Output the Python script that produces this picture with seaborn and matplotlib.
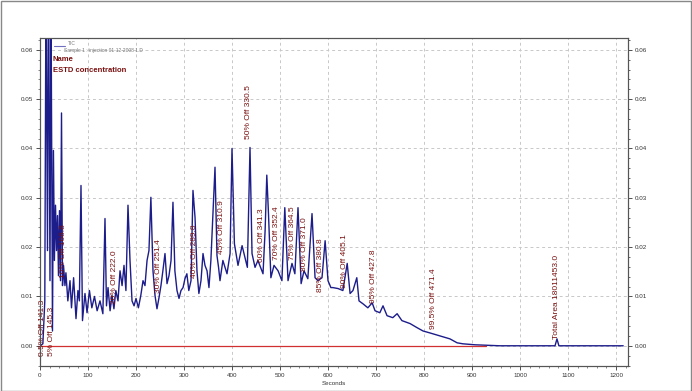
import matplotlib
matplotlib.use("Agg")
import matplotlib.pyplot as plt
import seaborn as sns
import pandas as pd
from matplotlib.ticker import MultipleLocator
from matplotlib.patches import Rectangle

# ---------------- data ----------------
time_s = [0, 6, 10, 12.5, 15.6, 17.7, 20.8, 22.9, 26, 28, 30, 32.3, 34.4, 36.5, 38.5, 40.6,
          42.7, 44.8, 46.9, 49, 52, 54, 58, 62.5, 65.6, 70, 75, 79, 82, 85.4, 88.5, 93.7,
          98, 103, 108, 113.5, 119, 125, 131, 135.4, 138.5, 141.7, 146, 150, 154, 158,
          162.5, 166.7, 171, 175, 179, 183.3, 187.5, 191.7, 196, 200, 205, 210, 214.6,
          218.7, 223, 227, 231, 235.4, 239.6, 243.7, 248, 252, 256, 260.4, 264.6, 268.7,
          273, 277, 281, 285.4, 289.6, 293.7, 298, 302, 306, 310, 314.6, 318.7, 323, 327,
          331, 335.4, 339.6, 343.7, 348, 352, 356, 360.4, 364.6, 368.7, 372, 375, 381,
          389.6, 396, 400, 405, 412.5, 421, 427, 432, 437.5, 441.7, 448, 454, 464.6, 469,
          472.5, 476, 481, 487.5, 496, 504, 510, 516.7, 525, 531, 537.5, 544, 550, 558,
          566.7, 573, 579, 587.5, 594, 600, 606, 610, 621, 631, 640, 646, 652, 660, 664.6,
          673, 683, 692, 698, 708, 714.6, 723, 735, 744, 754, 771, 785, 798, 812.5, 833,
          854, 869, 881, 906, 958, 1073, 1077, 1081, 1215]
tic = [0.0, 0.0004, 0.0091, 0.075, 0.0193, 0.08, 0.0132, 0.072, 0.003, 0.0396, 0.0173,
       0.0285, 0.0193, 0.0264, 0.0142, 0.0274, 0.0132, 0.0472, 0.0122, 0.0163, 0.0122,
       0.0148, 0.0091, 0.0132, 0.0077, 0.0138, 0.0055, 0.0112, 0.0091, 0.0325, 0.0051,
       0.0106, 0.0067, 0.0112, 0.0077, 0.0100, 0.0071, 0.0091, 0.0065, 0.0258, 0.0081,
       0.0118, 0.0071, 0.0102, 0.0075, 0.0112, 0.0091, 0.0152, 0.0122, 0.0163, 0.0112,
       0.0285, 0.0173, 0.0091, 0.0081, 0.0096, 0.0077, 0.0102, 0.0132, 0.0122, 0.0173,
       0.0193, 0.0301, 0.0152, 0.0102, 0.0075, 0.0098, 0.0122, 0.0152, 0.0187, 0.0126,
       0.0142, 0.0173, 0.0291, 0.0152, 0.0112, 0.0096, 0.0112, 0.0118, 0.0136, 0.0146,
       0.0112, 0.0132, 0.0315, 0.0260, 0.0152, 0.0106, 0.0132, 0.0187, 0.0163, 0.0152,
       0.0118, 0.0173, 0.0268, 0.0362, 0.0183, 0.0159, 0.0132, 0.0173, 0.0146, 0.0187,
       0.0400, 0.0207, 0.0163, 0.0203, 0.0179, 0.0159, 0.0402, 0.0187, 0.0159, 0.0173,
       0.0146, 0.0234, 0.0346, 0.0268, 0.0138, 0.0163, 0.0152, 0.0132, 0.0280, 0.0132,
       0.0167, 0.0146, 0.0280, 0.0126, 0.0152, 0.0136, 0.0268, 0.0138, 0.0132, 0.0138,
       0.0213, 0.0132, 0.0118, 0.0118, 0.0116, 0.0112, 0.0167, 0.0106, 0.0112, 0.0138,
       0.0091, 0.0085, 0.0077, 0.0087, 0.0071, 0.0067, 0.0081, 0.0061, 0.0057, 0.0065,
       0.0051, 0.0045, 0.0037, 0.0030, 0.0026, 0.0020, 0.0014, 0.0006, 0.0004, 0.0002,
       0.0, 0.0, 0.0014, 0.0, 0.0]

cut_labels = ["0.5% Off 141.3", "5% Off 145.3", "10% Off 168.8", "20% Off 222.0",
              "30% Off 251.4", "40% Off 289.8", "45% Off 310.9", "50% Off 330.5",
              "60% Off 341.3", "70% Off 352.4", "75% Off 364.5", "80% Off 371.0",
              "85% Off 380.8", "90% Off 405.1", "95% Off 427.8", "99.5% Off 471.4",
              "Total Area 18011453.0"]
cut_x = [6, 23, 48, 156, 246, 321, 379, 435, 462, 492, 525, 552, 585, 635, 694, 819, 1075]
cut_y = [-0.002, -0.002, 0.0138, 0.0085, 0.0106, 0.0138, 0.0187, 0.042, 0.0169, 0.0173,
         0.0173, 0.0152, 0.011, 0.0118, 0.0087, 0.0035, 0.0014]

x_ticks = [0, 100, 200, 300, 400, 500, 600, 700, 800, 900, 1000, 1100, 1200]
y_ticks = [0.00, 0.01, 0.02, 0.03, 0.04, 0.05, 0.06]
y_ticklabels = ["0.00", "0.01", "0.02", "0.03", "0.04", "0.05", "0.06"]
baseline_x = [0, 930]
baseline_y = [0.0, 0.0]

# ---------------- figure ----------------
sns.set_style("white")
plt.rcParams['font.family'] = ['Liberation Sans', 'DejaVu Sans']

W, H = 692, 391
fig = plt.figure(figsize=(W / 100, H / 100), dpi=100)
L, R, T, B = 40, 628, 38, 366
ax = fig.add_axes([L / W, 1 - B / H, (R - L) / W, (B - T) / H])

navy = "#1c1c8a"
dred = "#7a1010"

df = pd.DataFrame({"Seconds": time_s, "TIC": tic})
sns.lineplot(data=df, x="Seconds", y="TIC", ax=ax, color=navy, linewidth=1.0,
             estimator=None, sort=False, legend=False, zorder=3)
ax.plot(baseline_x, baseline_y, color="#d03030", linewidth=0.9, zorder=4)

ax.set_xlim(0, 1225)
ax.set_ylim(-0.0041, 0.0624)

ax.set_xticks(x_ticks)
ax.set_xticklabels([str(v) for v in x_ticks])
ax.xaxis.set_minor_locator(MultipleLocator(20))
ax.set_yticks(y_ticks)
ax.set_yticklabels(y_ticklabels)
ax.yaxis.set_minor_locator(MultipleLocator(0.002))

for v in x_ticks:
    ax.axvline(v, color="#c8c8c8", linestyle=(0, (3, 3)), linewidth=0.7, zorder=1)
for v in y_ticks:
    ax.axhline(v, color="#c8c8c8", linestyle=(0, (3, 3)), linewidth=0.7, zorder=1)

ax.tick_params(axis="both", which="major", labelsize=4.5, length=3, width=0.6,
               colors="#333333", pad=2, direction="out")
ax.tick_params(axis="both", which="minor", length=1.5, width=0.5, colors="#555555")
ax.tick_params(axis="x", bottom=True, which="both")
ax.tick_params(axis="y", left=True, which="both")
ax.set_xlabel("Seconds", fontsize=4.5, color="#333333", labelpad=2)
ax.set_ylabel("")

ax2 = ax.twinx()
ax2.set_ylim(ax.get_ylim())
ax2.set_yticks(y_ticks)
ax2.set_yticklabels(y_ticklabels)
ax2.yaxis.set_minor_locator(MultipleLocator(0.002))
ax2.tick_params(axis="y", which="major", labelsize=4.5, length=3, width=0.6,
                colors="#333333", pad=2, right=True)
ax2.tick_params(axis="y", which="minor", length=1.5, width=0.5, right=True)

for a in (ax, ax2):
    for s in a.spines.values():
        s.set_color("#555555")
        s.set_linewidth(0.8)

for lab, x, y in zip(cut_labels, cut_x, cut_y):
    ax.text(x, y, lab, rotation=90, ha="center", va="bottom", fontsize=6,
            color=dred, zorder=5)

# legend-like header
ax.plot([0.023, 0.043], [0.975, 0.975], transform=ax.transAxes, color="#7070c0",
        linewidth=0.8)
ax.text(0.048, 0.982, "TIC", transform=ax.transAxes, fontsize=3.5, color="#777777",
        va="center")
ax.text(0.041, 0.962, "Sample 1 : injection 01-12-2008 1.D", transform=ax.transAxes,
        fontsize=3.5, color="#777777", va="center")
ax.text(0.022, 0.935, "Name", transform=ax.transAxes, fontsize=5.5, color=dred,
        fontweight="bold", va="center")
ax.text(0.022, 0.902, "ESTD concentration", transform=ax.transAxes, fontsize=5.5,
        color=dred, fontweight="bold", va="center")

fig.patches.append(Rectangle((0.5 / W, 0.5 / H), 1 - 1.5 / W, 1 - 1.5 / H,
                             transform=fig.transFigure, fill=False,
                             edgecolor="#888888", linewidth=1.0))

fig.savefig("out.png", dpi=100)
